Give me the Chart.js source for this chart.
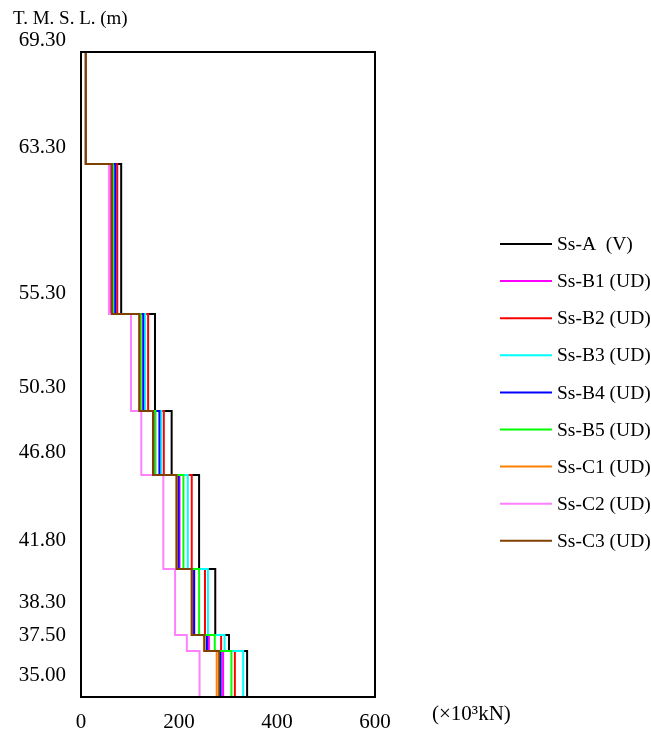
<!DOCTYPE html>
<html><head><meta charset="utf-8">
<script src="https://cdn.jsdelivr.net/npm/chart.js@4"></script>
<style>html,body{margin:0;padding:0;background:#fff}#wrap{width:651px;height:735px;position:relative}canvas{display:block}</style>
</head><body><div id="wrap"><canvas id="c" width="651" height="735"></canvas></div>
<script>
// Series names and colours (legend order)
const seriesNames = ['Ss-A  (V)','Ss-B1 (UD)','Ss-B2 (UD)','Ss-B3 (UD)','Ss-B4 (UD)','Ss-B5 (UD)','Ss-C1 (UD)','Ss-C2 (UD)','Ss-C3 (UD)'];
const seriesColors = ['#000000','#ff00ff','#ff0000','#00ffff','#0000ff','#00ff00','#ff8000','#ff80ff','#804000'];

// Element boundary levels on the (schematic) vertical axis, top to bottom
const levelPos = [645, 533, 383, 286, 222, 128, 62, 46, 0];
// Elevation labels and where they sit on the vertical axis
const elevLabels = ['69.30','63.30','55.30','50.30','46.80','41.80','38.30','37.50','35.00'];
const elevLabelPos = [657, 550, 404, 310, 245, 157, 95, 62, 22];
const xTicks = [0, 200, 400, 600];

// Shear force (x10^3 kN) per element, top to bottom
const ssA  = [10, 82, 151, 185, 241, 274, 302, 339];
const ssB1 = [10, 59, 120, 150, 201, 229, 261, 290];
const ssB2 = [10, 74, 137, 169, 226, 253, 286, 314];
const ssB3 = [10, 68, 131, 164, 218, 259, 293, 331];
const ssB4 = [10, 70, 127, 160, 199, 231, 257, 285];
const ssB5 = [10, 65, 122, 152, 209, 241, 273, 307];
const ssC1 = [10, 63, 119, 147, 195, 226, 251, 277];
const ssC2 = [10, 57, 102, 123, 168, 192, 216, 242];
const ssC3 = [10, 63, 119, 147, 195, 226, 252, 282];
const allSeries = [ssA, ssB1, ssB2, ssB3, ssB4, ssB5, ssC1, ssC2, ssC3];

function stepPoints(vals){
  const pts = [];
  for (let i = 0; i < vals.length; i++){
    pts.push({x: vals[i], y: levelPos[i]});
    pts.push({x: vals[i], y: levelPos[i+1]});
  }
  return pts;
}

const SERIF = "'Liberation Serif', 'DejaVu Serif', serif";

const extras = {
  id: 'extras',
  afterDatasetsDraw(chart){
    const {ctx, chartArea: a} = chart;
    ctx.save();
    ctx.strokeStyle = '#000';
    ctx.lineWidth = 2;
    ctx.strokeRect(a.left, a.top, a.right - a.left, a.bottom - a.top);
    ctx.restore();
  },
  afterDraw(chart){
    const ctx = chart.ctx;
    ctx.save();
    // legend
    chart.data.datasets.forEach((ds, i) => {
      const y = 244 + i * 37.1;
      ctx.strokeStyle = ds.borderColor;
      ctx.lineWidth = 2;
      ctx.beginPath(); ctx.moveTo(500, y); ctx.lineTo(552, y); ctx.stroke();
      ctx.fillStyle = '#000';
      ctx.font = '19.5px ' + SERIF;
      ctx.textBaseline = 'middle';
      ctx.textAlign = 'left';
      ctx.fillText(ds.label, 557, y + 1);
    });
    // axis titles
    ctx.font = '19px ' + SERIF;
    ctx.textBaseline = 'middle';
    ctx.fillText('T. M. S. L. (m)', 13, 19);
    ctx.font = '21px ' + SERIF;
    ctx.fillText('(×10³kN)', 432, 714);
    ctx.restore();
  }
};

new Chart(document.getElementById('c'), {
  type: 'scatter',
  data: {
    datasets: allSeries.map((vals, i) => ({
      label: seriesNames[i],
      data: stepPoints(vals),
      showLine: true,
      order: allSeries.length - i,
      borderColor: seriesColors[i],
      backgroundColor: seriesColors[i],
      borderWidth: 2,
      pointRadius: 0,
      borderJoinStyle: 'miter',
      tension: 0
    }))
  },
  options: {
    responsive: false,
    animation: false,
    devicePixelRatio: 1,
    layout: {padding: {left: 0, right: 276, top: 52, bottom: 0}},
    plugins: {legend: {display: false}, tooltip: {enabled: false}},
    scales: {
      x: {
        type: 'linear', min: 0, max: 600,
        grid: {display: false, drawTicks: false},
        border: {display: false},
        afterBuildTicks(s){ s.ticks = xTicks.map(v => ({value: v})); },
        ticks: {color: '#000', font: {family: SERIF, size: 21}, padding: 13, autoSkip: false, maxRotation: 0},
        afterFit(s){ s.height = 38; }
      },
      y: {
        type: 'linear', min: 0, max: 645,
        grid: {display: false, drawTicks: false},
        border: {display: false},
        afterBuildTicks(s){ s.ticks = elevLabelPos.map(v => ({value: v})); },
        ticks: {
          color: '#000', font: {family: SERIF, size: 21}, padding: 15, autoSkip: false,
          callback: (v) => elevLabels[elevLabelPos.indexOf(v)]
        },
        afterFit(s){ s.width = 81; }
      }
    }
  },
  plugins: [extras]
});
</script>
</body></html>
